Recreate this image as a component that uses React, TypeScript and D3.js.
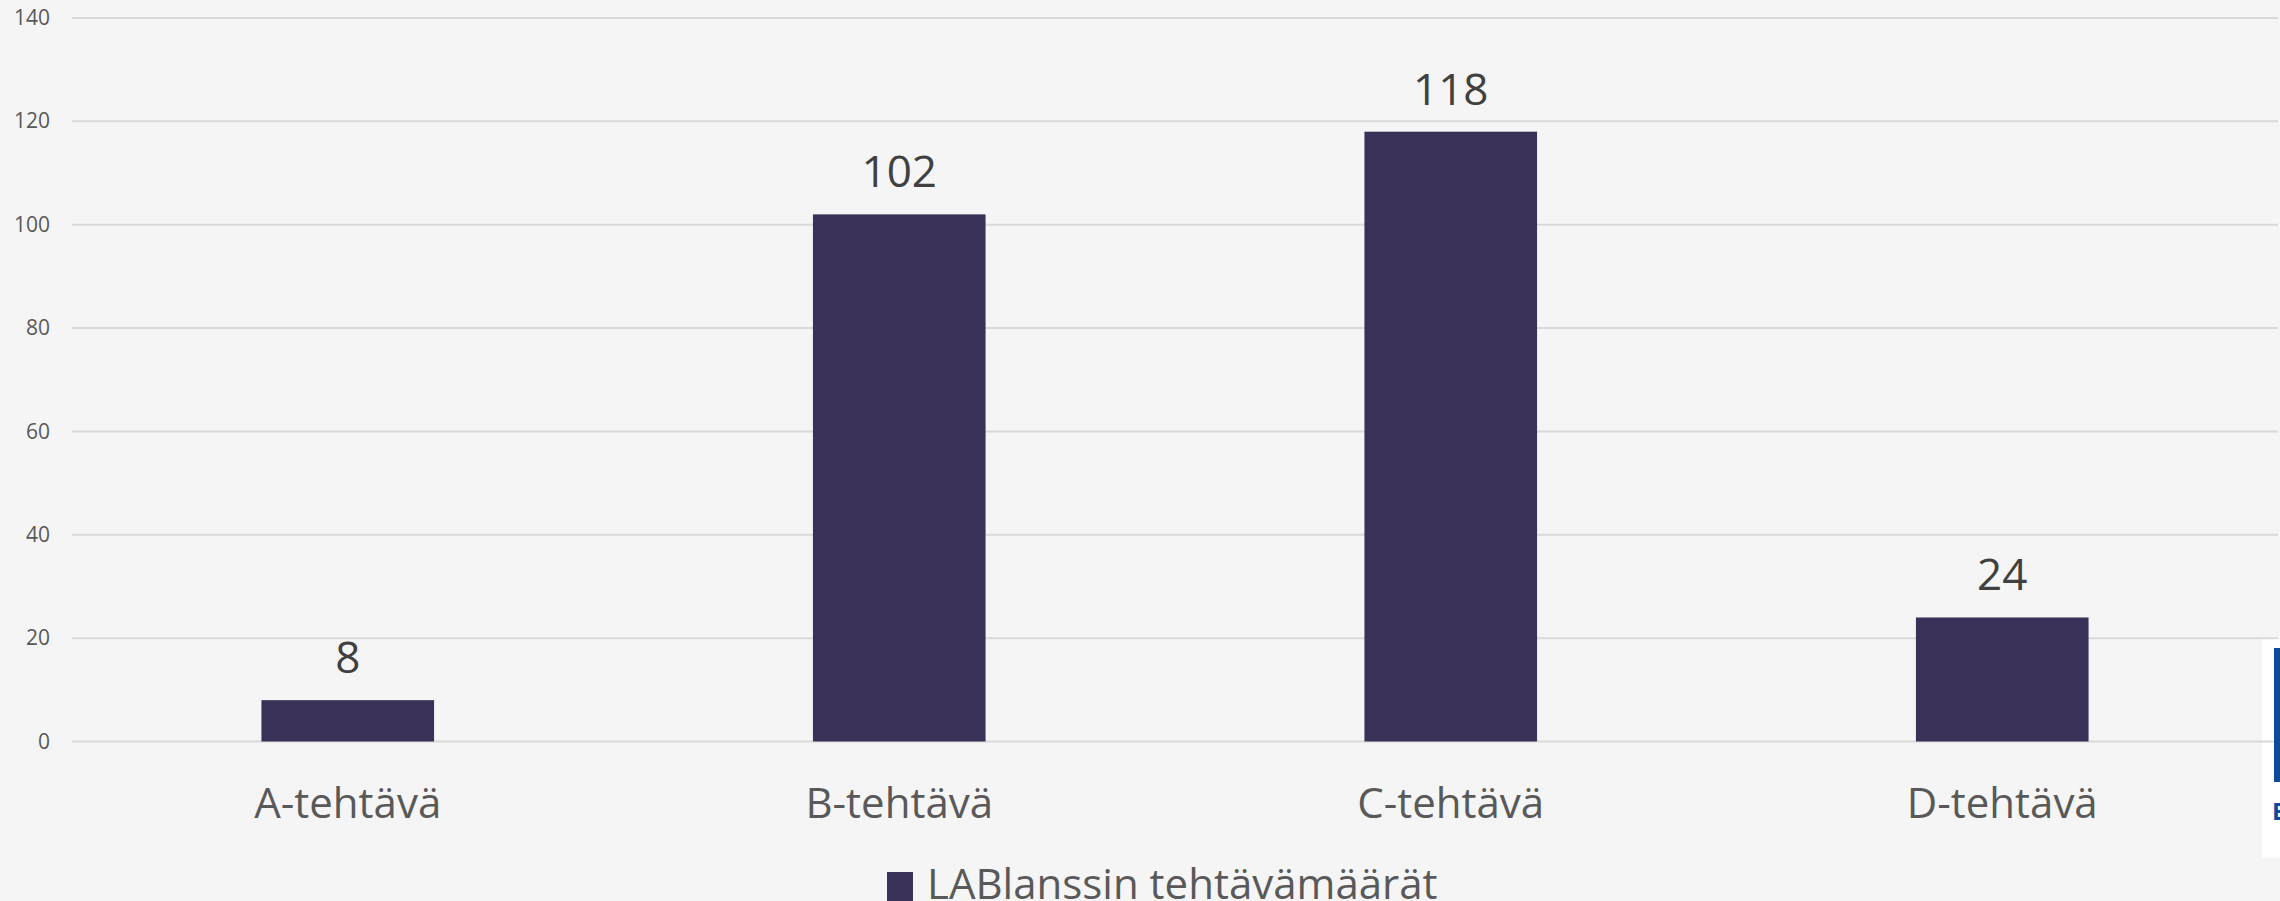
import React, { useEffect, useRef } from 'react';
import * as d3 from 'd3';

// chart values
const categories = ['A-tehtävä', 'B-tehtävä', 'C-tehtävä', 'D-tehtävä'];
const taskCounts = [8, 102, 118, 24];
const yTicks = [0, 20, 40, 60, 80, 100, 120, 140];
const seriesName = 'LABlanssin tehtävämäärät';

const W = 2280;
const H = 901;
const FONT = '"Open Sans", "Noto Sans", sans-serif';

const App = () => {
  const svgRef = useRef<SVGSVGElement>(null);

  useEffect(() => {
    const svg = d3.select(svgRef.current);
    svg.selectAll('*').remove();

    const margin = { top: 18, right: 2, bottom: 159.5, left: 72 };

    svg.append('rect')
      .attr('width', W)
      .attr('height', H)
      .attr('fill', '#f5f5f5');

    const x = d3.scaleBand()
      .domain(categories)
      .range([margin.left, W - margin.right])
      .paddingInner(0.687)
      .paddingOuter(0.3435);

    const y = d3.scaleLinear()
      .domain([0, 140])
      .range([H - margin.bottom, margin.top]);

    // gridlines
    svg.append('g')
      .selectAll('line')
      .data(yTicks)
      .enter().append('line')
      .attr('x1', margin.left)
      .attr('x2', W - margin.right)
      .attr('y1', d => y(d))
      .attr('y2', d => y(d))
      .attr('stroke', '#d9d9d9')
      .attr('stroke-width', 2);

    // y tick labels
    svg.append('g')
      .selectAll('text')
      .data(yTicks)
      .enter().append('text')
      .attr('x', 50)
      .attr('y', d => y(d))
      .attr('dy', '0.34em')
      .attr('text-anchor', 'end')
      .attr('font-family', FONT)
      .attr('font-size', 21)
      .attr('fill', '#595959')
      .text(d => d);

    // bars
    svg.append('g')
      .selectAll('rect')
      .data(categories)
      .enter().append('rect')
      .attr('x', d => x(d)!)
      .attr('width', x.bandwidth())
      .attr('y', (d, i) => y(taskCounts[i]))
      .attr('height', (d, i) => y(0) - y(taskCounts[i]))
      .attr('fill', '#3a3159');

    // value labels
    svg.append('g')
      .selectAll('text')
      .data(categories)
      .enter().append('text')
      .attr('x', d => x(d)! + x.bandwidth() / 2)
      .attr('y', (d, i) => y(taskCounts[i]) - 27)
      .attr('text-anchor', 'middle')
      .attr('font-family', FONT)
      .attr('font-size', 44)
      .attr('fill', '#404040')
      .text((d, i) => taskCounts[i]);

    // category labels
    svg.append('g')
      .selectAll('text')
      .data(categories)
      .enter().append('text')
      .attr('x', d => x(d)! + x.bandwidth() / 2)
      .attr('y', 818)
      .attr('text-anchor', 'middle')
      .attr('font-family', FONT)
      .attr('font-size', 42)
      .attr('fill', '#595959')
      .text(d => d);

    // legend
    const legend = svg.append('g');
    legend.append('rect')
      .attr('x', 887)
      .attr('y', 872)
      .attr('width', 26)
      .attr('height', 30)
      .attr('fill', '#3a3159');
    legend.append('text')
      .attr('x', 927)
      .attr('y', 899)
      .attr('font-family', FONT)
      .attr('font-size', 42)
      .attr('fill', '#595959')
      .text(seriesName);

    // slide overlay at the right edge
    svg.append('rect')
      .attr('x', 2262)
      .attr('y', 639.5)
      .attr('width', 18)
      .attr('height', 218)
      .attr('fill', '#ffffff');
    svg.append('line')
      .attr('x1', 2262)
      .attr('x2', 2278)
      .attr('y1', y(0))
      .attr('y2', y(0))
      .attr('stroke', '#d9d9d9')
      .attr('stroke-width', 2);
    svg.append('rect')
      .attr('x', 2274)
      .attr('y', 648)
      .attr('width', 6)
      .attr('height', 134)
      .attr('fill', '#0d4a9e');
    svg.append('text')
      .attr('x', 2272)
      .attr('y', 820)
      .attr('font-family', FONT)
      .attr('font-size', 24)
      .attr('font-weight', 'bold')
      .attr('fill', '#0d4a9e')
      .text('E');

    return () => {
      d3.select(svgRef.current).selectAll('*').remove();
    };
  }, []);

  return (
    <svg
      ref={svgRef}
      width={W}
      height={H}
      style={{ position: 'absolute', left: 0, top: 0, display: 'block' }}
    />
  );
};

export default App;
